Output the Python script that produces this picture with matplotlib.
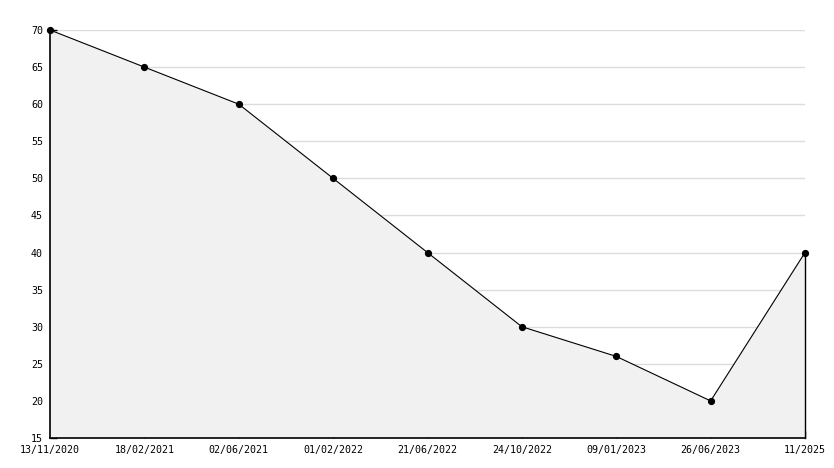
import matplotlib
matplotlib.use("Agg")
import matplotlib.pyplot as plt
from matplotlib.ticker import MultipleLocator

dates = ["13/11/2020", "18/02/2021", "02/06/2021", "01/02/2022", "21/06/2022",
         "24/10/2022", "09/01/2023", "26/06/2023", "11/2025"]
values = [70, 65, 60, 50, 40, 30, 26, 20, 40]
y_grid = [20, 25, 30, 35, 40, 45, 50, 55, 60, 65, 70]

plt.rcParams['font.family'] = ['DejaVu Sans Mono']
fig = plt.figure(figsize=(8.34, 4.68), dpi=100)
ax = fig.add_axes([50/834, 1-438/468, (805-50)/834, (438-30)/468])

x = list(range(len(values)))
for g in y_grid:
    ax.axhline(g, color='#dcdcdc', lw=1, zorder=1)
ax.fill_between(x, values, 15, facecolor='#f1f1f1', edgecolor='none', zorder=2)
ax.plot([x[-1], x[-1]], [15, values[-1]], color='black', lw=1, zorder=3, clip_on=False)
ax.plot(x, values, color='black', lw=0.8, marker='o', markersize=4.2, zorder=4, clip_on=False)

ax.set_xlim(0, len(values)-1)
ax.set_ylim(15, 70)
ax.yaxis.set_major_locator(MultipleLocator(5))
ax.yaxis.set_minor_locator(MultipleLocator(1))
ax.set_xticks(x)
ax.set_xticklabels(dates)
for s in ['top', 'right']:
    ax.spines[s].set_visible(False)
for s in ['left', 'bottom']:
    ax.spines[s].set_linewidth(1.2)
    ax.spines[s].set_zorder(5)
ax.tick_params(axis='both', which='major', direction='in', length=5, width=1, labelsize=7.2, colors='black')
ax.tick_params(axis='y', which='minor', direction='in', length=3, width=1)
ax.tick_params(axis='x', pad=5)
ax.tick_params(axis='y', pad=5)

fig.savefig("out.png", dpi=100)
